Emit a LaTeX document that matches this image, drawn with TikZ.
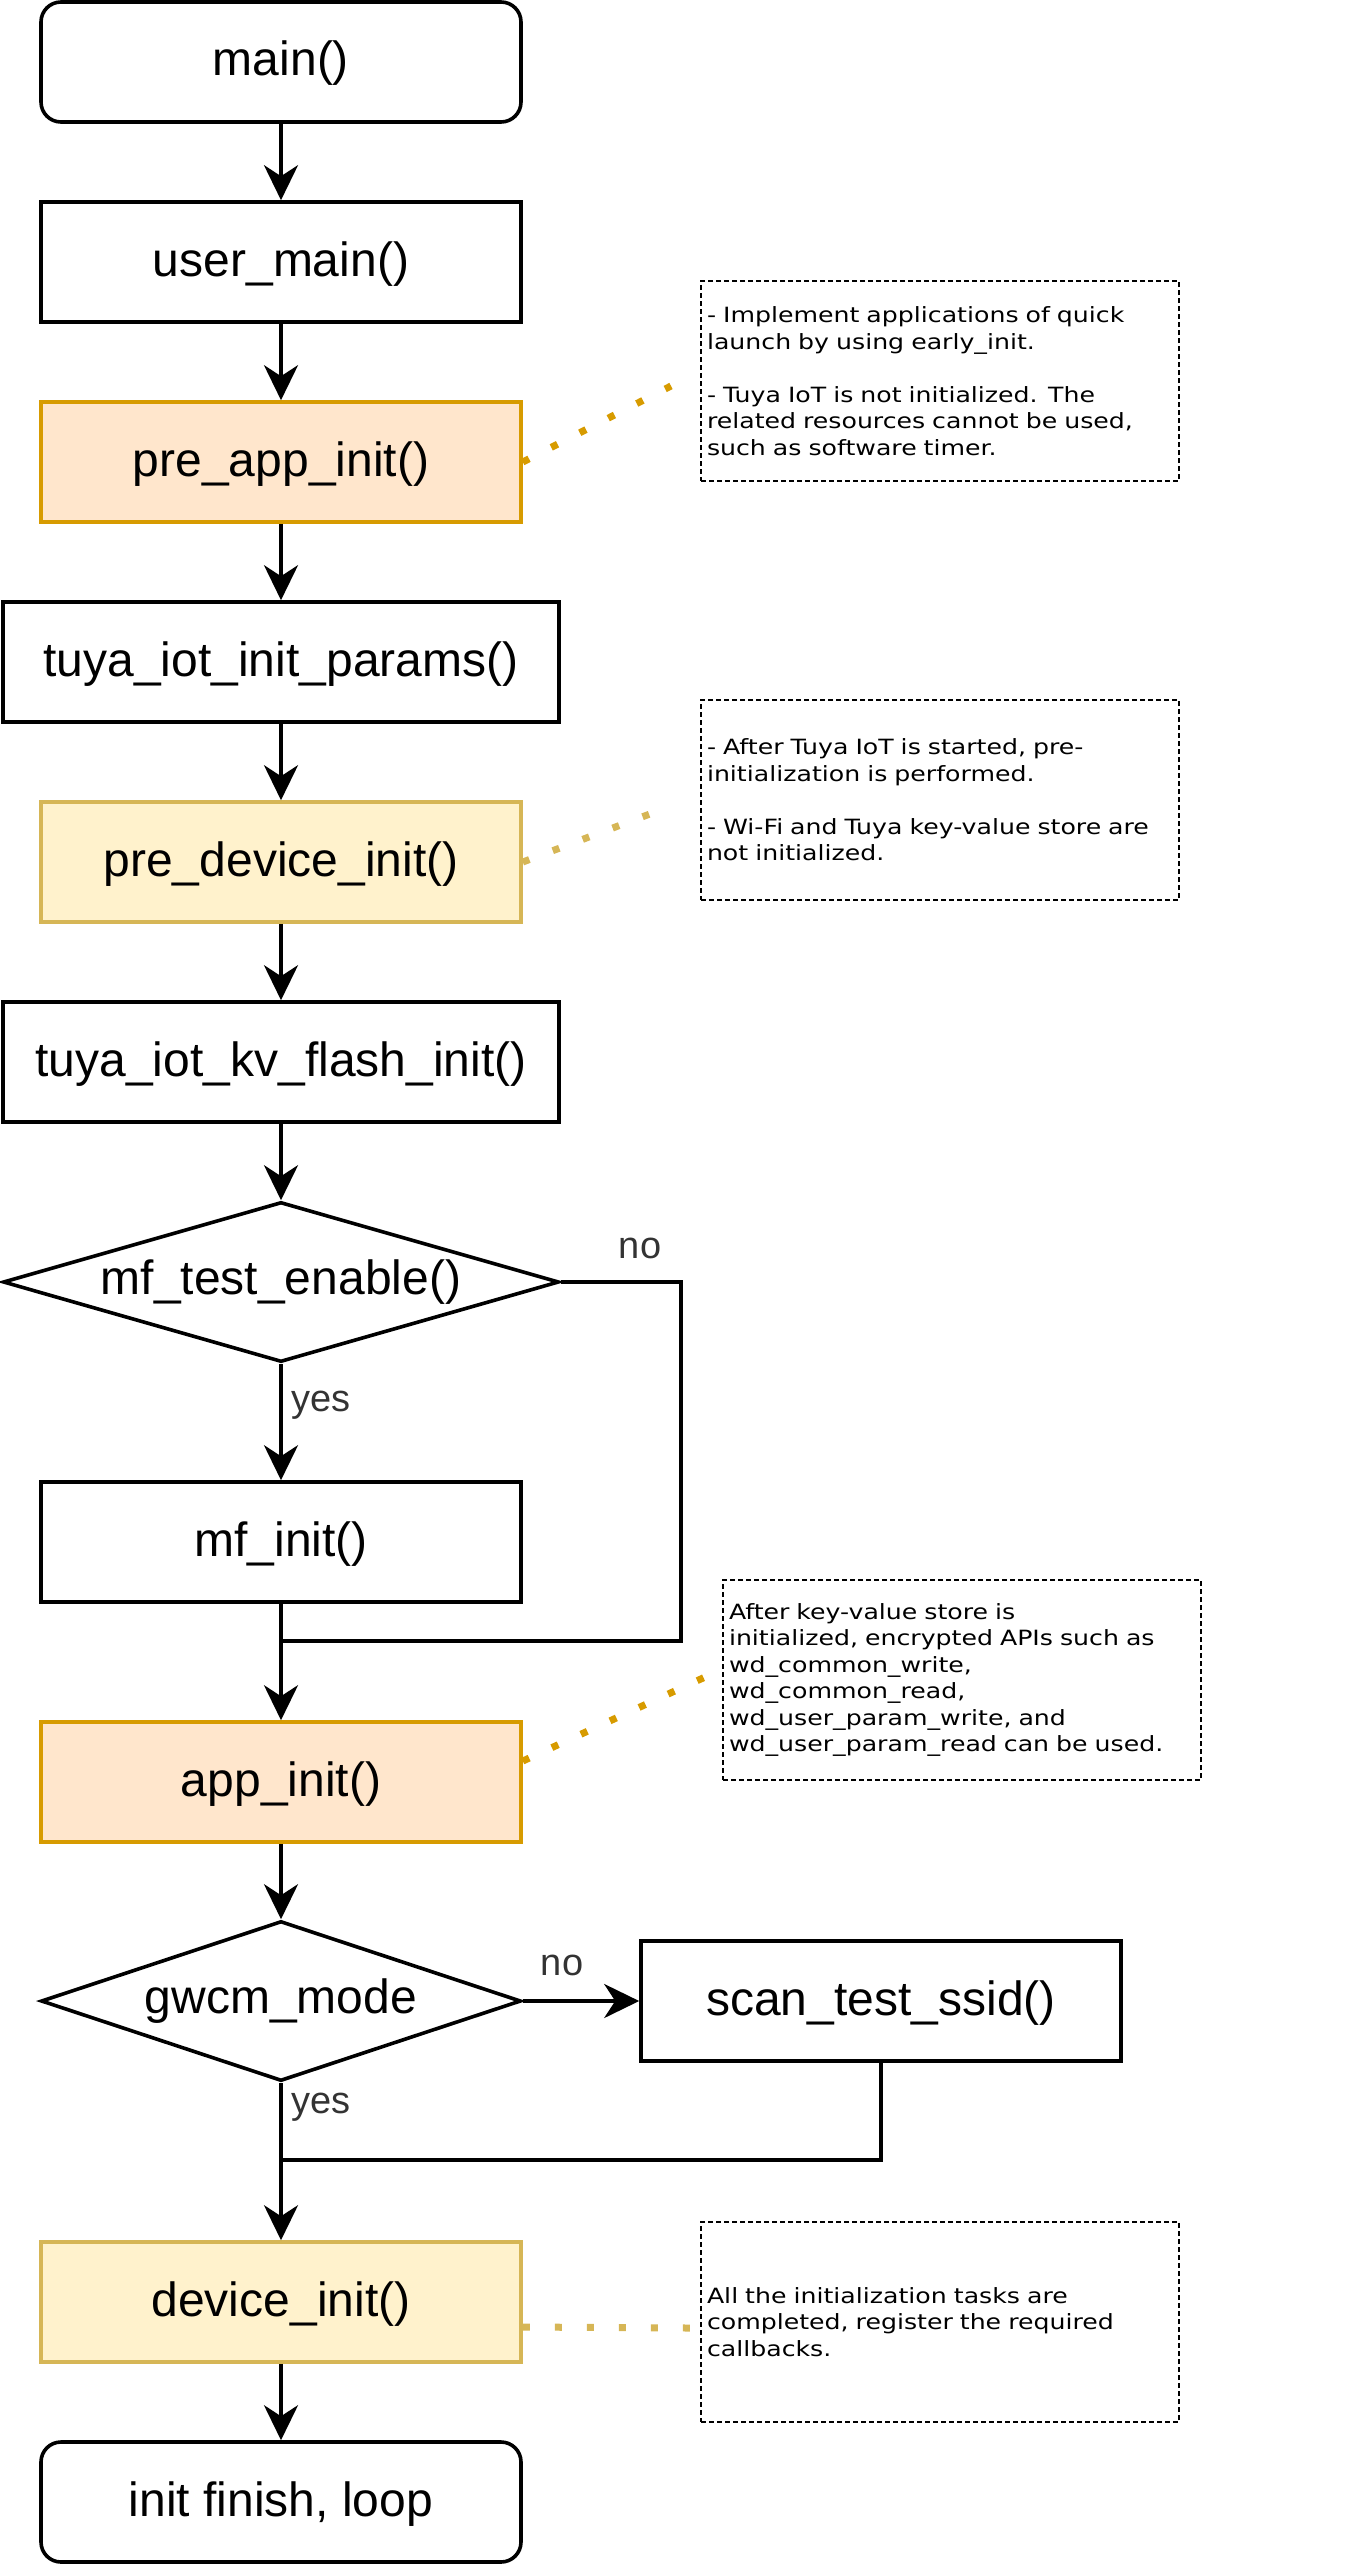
\documentclass[tikz,border=0pt]{standalone}
\usepackage{fontspec}
\setmainfont{Liberation Sans}
\newfontfamily\notefont[FakeStretch=1.2]{DejaVu Sans}
\usepackage{tikz}
\usetikzlibrary{arrows.meta,shapes.geometric,calc}
\usepackage{xcolor}
\definecolor{appfill}{RGB}{255,230,204}
\definecolor{appedge}{RGB}{215,155,0}
\definecolor{devfill}{RGB}{255,242,204}
\definecolor{devedge}{RGB}{214,182,86}
\definecolor{labelgray}{RGB}{51,51,51}

\begin{document}
\begin{tikzpicture}[x=1pt, y=-1pt, line width=3.6pt,
    every node/.style={font=\fontsize{48}{56}\selectfont},
    box/.style={draw, rectangle, minimum width=480pt, minimum height=120pt, inner sep=0pt,
      text height=38pt, text depth=10pt},
    wide/.style={minimum width=556pt},
    terminal/.style={box, rounded corners=20pt},
    appcol/.style={draw=appedge, fill=appfill},
    devcol/.style={draw=devedge, fill=devfill},
    decision/.style={draw, diamond, aspect=3.2, minimum width=480pt, minimum height=160pt, inner sep=0pt},
    branch/.style={font=\fontsize{38}{44}\selectfont, text=labelgray, inner sep=0pt},
    note/.style={draw, line width=2pt, dash pattern=on 5pt off 3pt, text width=466pt, align=left,
      inner xsep=6pt, inner ysep=0pt, minimum height=200pt, font=\notefont\fontsize{21}{26.5}\selectfont},
    flow/.style={-{Stealth[length=35pt,width=34pt,inset=11pt]}},
    hint/.style={line width=7pt, dash pattern=on 7pt off 25pt}]
  \useasboundingbox (0,0) rectangle (1359,2566);

  % Main column
  \node[terminal] (main) at (281,62) {main()};
  \node[box] (user) at (281,262) {user\_main()};
  \node[box, appcol] (preapp) at (281,462) {pre\_app\_init()};
  \node[box, wide] (params) at (281,662) {tuya\_iot\_init\_params()};
  \node[box, devcol] (predev) at (281,862) {pre\_device\_init()};
  \node[box, wide] (kvflash) at (281,1062) {tuya\_iot\_kv\_flash\_init()};
  \node[decision, aspect=3.5, minimum width=556pt] (mftest) at (281,1282) {mf\_test\_enable()};
  \node[box] (mfinit) at (281,1542) {mf\_init()};
  \node[box, appcol] (appinit) at (281,1782) {app\_init()};
  \node[decision] (gwcm) at (281,2001) {gwcm\_mode};
  \node[box] (scan) at (881,2001) {scan\_test\_ssid()};
  \node[box, devcol] (devinit) at (281,2302) {device\_init()};
  \node[terminal] (finish) at (281,2502) {init finish, loop};

  \foreach \a/\b in {main/user, user/preapp, preapp/params, params/predev, predev/kvflash,
      kvflash/mftest, mftest/mfinit, mfinit/appinit, appinit/gwcm, gwcm/devinit, devinit/finish} {
    \draw[flow] (\a) -- (\b);
  }
  \draw[flow] (gwcm) -- (scan);

  % Branches joining back
  \coordinate (mfjoin) at (281,1641);
  \coordinate (nocorner) at (681,1641);
  \draw (mftest.east) -| (nocorner) -- (mfjoin);
  \coordinate (scanjoin) at (281,2160);
  \draw (scan.south) |- (scanjoin);

  \node[branch] (mfno) at (640,1248) {no};
  \node[branch, anchor=west] (mfyes) at (290,1405) {yes};
  \node[branch] (gwno) at (562,1965) {no};
  \node[branch, anchor=west] (gwyes) at (290,2107) {yes};

  % Notes
  \node[note] (n1) at (940,381) {- Implement applications of quick\\launch by using early\_init.\\[26.5pt]- Tuya IoT is not initialized. The\\related resources cannot be used,\\such as software timer.};
  \node[note] (n2) at (940,800) {- After Tuya IoT is started, pre-\\initialization is performed.\\[26.5pt]- Wi-Fi and Tuya key-value store are\\not initialized.};
  \node[note] (n3) at (962,1680) {After key-value store is\\initialized, encrypted APIs such as\\wd\_common\_write,\\wd\_common\_read,\\wd\_user\_param\_write, and\\wd\_user\_param\_read can be used.};
  \node[note] (n4) at (940,2322) {All the initialization tasks are\\completed, register the required\\callbacks.};

  \coordinate (n1end) at (671,386);
  \coordinate (n2end) at (671,806);
  \coordinate (n3end) at (716,1672);
  \coordinate (n4end) at (690,2328);
  \draw[hint, appedge] (preapp.east) -- (n1end);
  \draw[hint, devedge] (predev.east) -- (n2end);
  \draw[hint, appedge] ([yshift=21pt]appinit.east) -- (n3end);
  \draw[hint, devedge] ([yshift=-25pt]devinit.east) -- (n4end);
\end{tikzpicture}
\end{document}
